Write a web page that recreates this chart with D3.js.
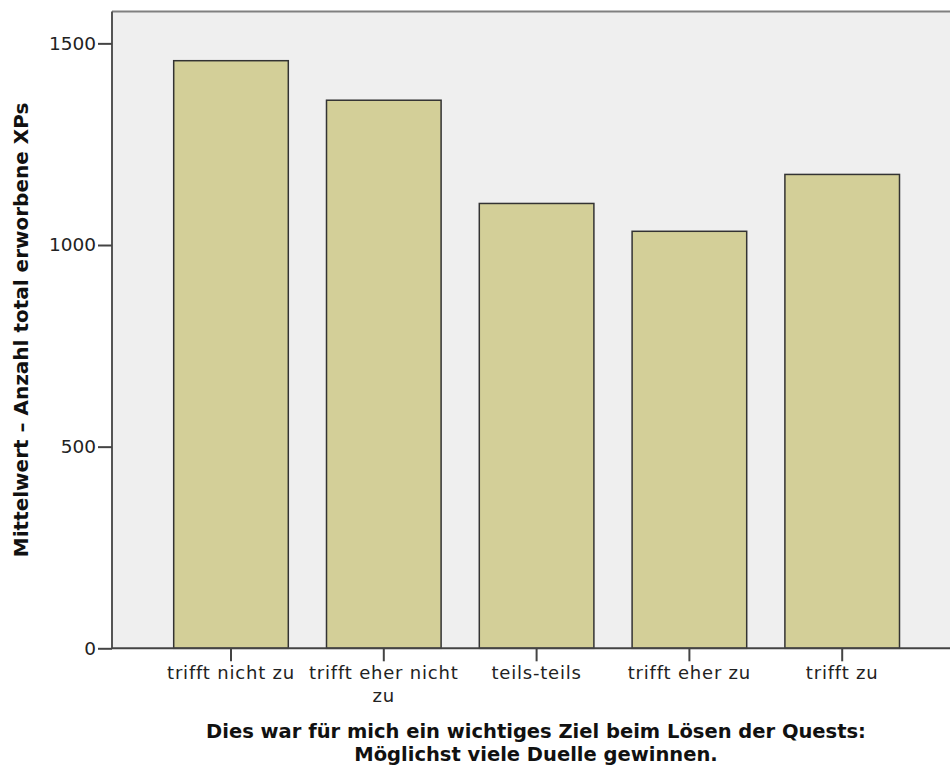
<!DOCTYPE html>
<html>
<head>
<meta charset="utf-8">
<script src="https://cdn.jsdelivr.net/npm/d3@7"></script>
<style>
  body { margin: 0; background: #fff; }
  svg { display: block; }
</style>
</head>
<body>
<div id="chart"></div>
<script>
// data
var categories = ["trifft nicht zu", "trifft eher nicht zu", "teils-teils", "trifft eher zu", "trifft zu"];
var means = [1457, 1359, 1103, 1034, 1175];
var yTicks = [0, 500, 1000, 1500];
var yTitle = "Mittelwert \u2013 Anzahl total erworbene XPs";
var xTitle = ["Dies war für mich ein wichtiges Ziel beim Lösen der Quests:", "Möglichst viele Duelle gewinnen."];

var width = 950, height = 770;
var plotLeft = 112, plotRight = 952, plotTop = 11.5, plotBottom = 648.3;

var svg = d3.select("#chart").append("svg")
    .attr("width", width)
    .attr("height", height);

var xScale = d3.scaleBand()
    .domain(categories)
    .range([154.6, 918.6])
    .paddingInner(0.25)
    .paddingOuter(0.125);

var yScale = d3.scaleLinear()
    .domain([0, 1579])
    .range([plotBottom, plotTop]);

// plot background
svg.append("rect")
    .attr("x", plotLeft)
    .attr("y", plotTop)
    .attr("width", plotRight - plotLeft)
    .attr("height", plotBottom - plotTop)
    .attr("fill", "#efefef");

// top border
svg.append("line")
    .attr("x1", plotLeft).attr("x2", plotRight)
    .attr("y1", plotTop).attr("y2", plotTop)
    .attr("stroke", "#808080")
    .attr("stroke-width", 2);

// bars
svg.selectAll("rect.bar")
    .data(means)
    .enter()
    .append("rect")
    .attr("class", "bar")
    .attr("x", function(d, i){ return xScale(categories[i]); })
    .attr("y", function(d){ return yScale(d); })
    .attr("width", xScale.bandwidth())
    .attr("height", function(d){ return yScale(0) - yScale(d); })
    .attr("fill", "#d3cf98")
    .attr("stroke", "#333")
    .attr("stroke-width", 1.5);

// y axis
var yAxis = svg.append("g")
    .attr("transform", "translate(" + plotLeft + ",0)")
    .call(d3.axisLeft(yScale).tickValues(yTicks).tickFormat(d3.format("d"))
        .tickSize(14).tickPadding(2).tickSizeOuter(0));
yAxis.select(".domain")
    .attr("stroke", "#555")
    .attr("stroke-width", 2)
    .attr("d", "M0," + plotTop + "V" + plotBottom);
yAxis.selectAll(".tick line").attr("stroke", "#444").attr("stroke-width", 2);
yAxis.selectAll(".tick text")
    .attr("font-family", "DejaVu Sans")
    .attr("font-size", 18.5)
    .attr("fill", "#222");

// x axis
var xAxis = svg.append("g")
    .attr("transform", "translate(0," + plotBottom + ")")
    .call(d3.axisBottom(xScale).tickSize(13).tickPadding(5).tickSizeOuter(0));
xAxis.select(".domain")
    .attr("stroke", "#444")
    .attr("stroke-width", 2)
    .attr("d", "M" + plotLeft + ",0H" + plotRight);
xAxis.selectAll(".tick line").attr("stroke", "#444").attr("stroke-width", 2);
xAxis.selectAll(".tick text")
    .attr("font-family", "DejaVu Sans")
    .attr("font-size", 18)
    .attr("letter-spacing", 0.8)
    .attr("fill", "#222")
    .call(wrap, 158);

function wrap(texts, maxWidth){
    texts.each(function(){
        var text = d3.select(this);
        var words = text.text().split(/\s+/);
        var y = text.attr("y"), dy = parseFloat(text.attr("dy"));
        var line = [];
        var lineNo = 0;
        var tspan = text.text(null).append("tspan").attr("x", 0).attr("y", y).attr("dy", dy + "em");
        words.forEach(function(w){
            line.push(w);
            tspan.text(line.join(" "));
            if (tspan.node().getComputedTextLength() > maxWidth && line.length > 1) {
                line.pop();
                tspan.text(line.join(" "));
                line = [w];
                lineNo++;
                tspan = text.append("tspan").attr("x", 0).attr("y", y)
                    .attr("dy", (dy + lineNo * 1.25) + "em").text(w);
            }
        });
    });
}

// axis titles
svg.append("text")
    .attr("transform", "translate(28," + ((plotTop + plotBottom) / 2) + ") rotate(-90)")
    .attr("text-anchor", "middle")
    .attr("font-family", "DejaVu Sans")
    .attr("font-weight", "bold")
    .attr("font-size", 20)
    .attr("fill", "#111")
    .text(yTitle);

svg.selectAll("text.xtitle")
    .data(xTitle)
    .enter()
    .append("text")
    .attr("class", "xtitle")
    .attr("x", 536)
    .attr("y", function(d, i){ return 738 + i * 23; })
    .attr("text-anchor", "middle")
    .attr("font-family", "DejaVu Sans")
    .attr("font-weight", "bold")
    .attr("font-size", 19.5)
    .attr("fill", "#111")
    .text(function(d){ return d; });
</script>
</body>
</html>
